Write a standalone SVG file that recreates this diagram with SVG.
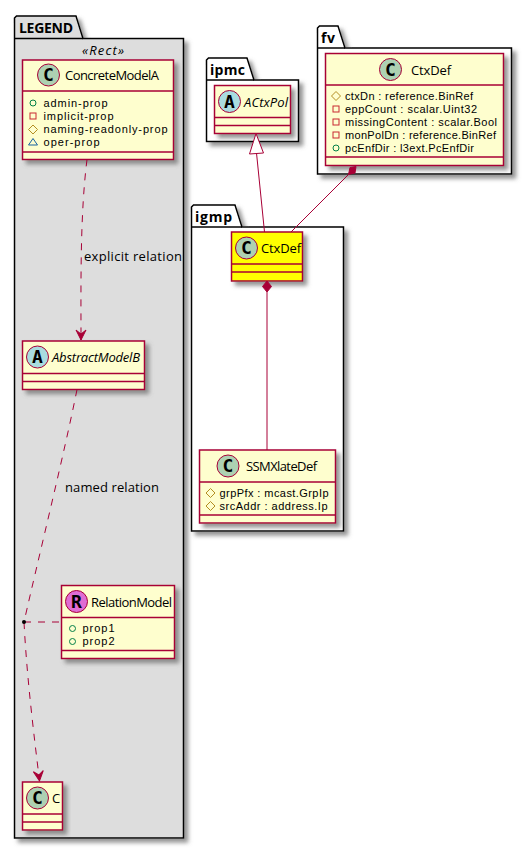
<svg xmlns="http://www.w3.org/2000/svg" width="532" height="849" viewBox="0 0 532 849">
<defs>
<filter id="sh" x="-20%" y="-20%" width="140%" height="140%"><feGaussianBlur in="SourceAlpha" stdDeviation="2"/><feOffset dx="4" dy="4"/><feColorMatrix type="matrix" values="0 0 0 0 0.15 0 0 0 0 0.15 0 0 0 0 0.15 0 0 0 0.72 0"/><feMerge><feMergeNode/><feMergeNode in="SourceGraphic"/></feMerge></filter>
<marker id="open" markerUnits="userSpaceOnUse" markerWidth="14" markerHeight="14" refX="11" refY="6" orient="auto"><path d="M1 1 L11 6 L1 11 L5 6 Z" fill="#A80036" stroke="#A80036" stroke-width="1"/></marker>
</defs>
<style>
text{font-family:"Open Sans","Noto Sans","Liberation Sans",sans-serif;fill:#000}
.pk{fill:#fff;stroke:#000;stroke-width:1.5}
.cl{fill:#FEFECE;stroke:#A80036;stroke-width:1.5}
.sep{stroke:#A80036;stroke-width:1.5;fill:none}
.t{font-size:13px}
.m{font-size:11px;font-family:"Liberation Sans",sans-serif}
.b{font-size:14px;font-weight:bold}
.c{stroke:#A80036;fill:none;stroke-width:1}
.d{stroke-dasharray:7,7}
.g{font-weight:bold;font-size:18px;font-family:"DejaVu Sans Mono","Liberation Mono",monospace;text-anchor:middle}
.cC{fill:#ADD1B2;stroke:#A80036;stroke-width:1}
.cA{fill:#A9DCDF;stroke:#A80036;stroke-width:1}
.cR{fill:#DF6CD3;stroke:#A80036;stroke-width:1}
.vg{fill:none;stroke:#038048}.vr{fill:none;stroke:#C82930}.vy{fill:none;stroke:#B38D22}.vb{fill:none;stroke:#1963A0}
</style>
<g id="pkg-legend" filter="url(#sh)"><path class="pk" style="fill:#DDDDDD" d="M14.500 38.500 V18 L16.500 16 H76 L83 38.500 H183.500 V838 H14.500 Z"/><path class="sep" style="stroke:#000" d="M14.500 38.500 H83"/></g>
<text class="b" x="19" y="33" textLength="54">LEGEND</text>
<text x="103" y="55" font-size="13" font-style="italic" text-anchor="middle" textLength="42">«Rect»</text>
<g id="pkg-ipmc" filter="url(#sh)"><path class="pk" d="M206.500 80 V60 L208.500 58 H247 L254 80 H298.500 V141.500 H206.500 Z"/><path class="sep" style="stroke:#000" d="M206.500 80 H254"/></g>
<text class="b" x="210" y="75" textLength="35">ipmc</text>
<g id="pkg-fv" filter="url(#sh)"><path class="pk" d="M317.500 48 V28 L319.500 26 H338 L345 48 H511.500 V174 H317.500 Z"/><path class="sep" style="stroke:#000" d="M317.500 48 H345"/></g>
<text class="b" x="321" y="43" textLength="14">fv</text>
<g id="pkg-igmp" filter="url(#sh)"><path class="pk" d="M191.500 227 V207 L193.500 205 H235 L242 227 H343.500 V531 H191.500 Z"/><path class="sep" style="stroke:#000" d="M191.500 227 H242"/></g>
<text class="b" x="195" y="222" textLength="37">igmp</text>
<g id="ConcreteModelA"><rect class="cl" filter="url(#sh)" x="22.500" y="60" width="151" height="99.500"/><path class="sep" d="M22.500 91 H173.500 M22.500 152 H173.500"/><circle class="cC" cx="48.500" cy="75" r="11"/><text class="g" x="48.500" y="81">C</text><text class="t" x="65" y="80" textLength="94">ConcreteModelA</text>
<circle class="vg" cx="33" cy="103" r="3"/><text class="m" x="43.500" y="106.500" textLength="64">admin-prop</text>
<rect class="vr" x="30" y="113" width="6" height="6"/><text class="m" x="43.500" y="119.500" textLength="70">implicit-prop</text>
<path class="vy" d="M33 125 L37.500 129.500 L33 134 L28.500 129.500 Z"/><text class="m" x="43.500" y="132.500" textLength="124">naming-readonly-prop</text>
<path class="vb" d="M33 138.500 L37.500 145 H28.500 Z"/><text class="m" x="43.500" y="145.500" textLength="56">oper-prop</text></g>
<g id="AbstractModelB"><rect class="cl" filter="url(#sh)" x="22.500" y="341" width="122" height="48.500"/><path class="sep" d="M22.500 373.500 H144.500 M22.500 381.500 H144.500"/><circle class="cA" cx="37.500" cy="357" r="11"/><text class="g" x="37.500" y="363">A</text><text class="t" x="52" y="362" font-style="italic" textLength="88">AbstractModelB</text></g>
<g id="RelationModel"><rect class="cl" filter="url(#sh)" x="61.500" y="585.500" width="113" height="73"/><path class="sep" d="M61.500 617.500 H174.500 M61.500 650.500 H174.500"/><circle class="cR" cx="76.500" cy="601.500" r="11"/><text class="g" x="76.500" y="607.500">R</text><text class="t" x="91" y="606.500" textLength="81">RelationModel</text>
<circle class="vg" cx="72.500" cy="628.500" r="3"/><text class="m" x="82.500" y="632" textLength="32">prop1</text>
<circle class="vg" cx="72.500" cy="641.500" r="3"/><text class="m" x="82.500" y="645" textLength="32">prop2</text></g>
<g id="C"><rect class="cl" filter="url(#sh)" x="22.500" y="782" width="40" height="48"/><path class="sep" d="M22.500 814 H62.500 M22.500 822 H62.500"/><circle class="cC" cx="37.500" cy="798" r="11"/><text class="g" x="37.500" y="804">C</text><text class="t" x="52" y="803" textLength="8">C</text></g>
<g id="ipmc-ACtxPol"><rect class="cl" filter="url(#sh)" x="214.500" y="85.500" width="76" height="48"/><path class="sep" d="M214.500 117.500 H290.500 M214.500 125.500 H290.500"/><circle class="cA" cx="229.500" cy="101.500" r="11"/><text class="g" x="229.500" y="107.500">A</text><text class="t" x="244" y="106.500" font-style="italic" textLength="44">ACtxPol</text></g>
<g id="fv-CtxDef"><rect class="cl" filter="url(#sh)" x="325.500" y="53.500" width="178" height="112"/><path class="sep" d="M325.500 85 H503.500 M325.500 157 H503.500"/><circle class="cC" cx="390.500" cy="69.500" r="11"/><text class="g" x="390.500" y="75.500">C</text><text class="t" x="411" y="74.500" textLength="40">CtxDef</text>
<path class="vy" d="M336 91.500 L340.500 96 L336 100.500 L331.500 96 Z"/><text class="m" x="345" y="99.500" textLength="128">ctxDn : reference.BinRef</text>
<rect class="vr" x="333" y="106" width="6" height="6"/><text class="m" x="345" y="112.500" textLength="132">eppCount : scalar.Uint32</text>
<rect class="vr" x="333" y="119" width="6" height="6"/><text class="m" x="345" y="125.500" textLength="152">missingContent : scalar.Bool</text>
<rect class="vr" x="333" y="132" width="6" height="6"/><text class="m" x="345" y="138.500" textLength="151">monPolDn : reference.BinRef</text>
<circle class="vg" cx="336" cy="148" r="3"/><text class="m" x="345" y="151.500" textLength="129">pcEnfDir : l3ext.PcEnfDir</text></g>
<g id="igmp-CtxDef"><rect class="cl" style="fill:#FFFF00" filter="url(#sh)" x="231.500" y="232" width="71" height="49"/><path class="sep" d="M231.500 264 H302.500 M231.500 272 H302.500"/><circle class="cC" cx="246.500" cy="248" r="11"/><text class="g" x="246.500" y="254">C</text><text class="t" x="261" y="253" textLength="40">CtxDef</text></g>
<g id="igmp-SSMXlateDef"><rect class="cl" filter="url(#sh)" x="199.500" y="450" width="136" height="73"/><path class="sep" d="M199.500 482 H335.500 M199.500 515 H335.500"/><circle class="cC" cx="228" cy="466" r="11"/><text class="g" x="228" y="472">C</text><text class="t" x="246" y="471" textLength="71">SSMXlateDef</text>
<path class="vy" d="M210.500 488.500 L215 493 L210.500 497.500 L206 493 Z"/><text class="m" x="219.500" y="496.500" textLength="109">grpPfx : mcast.GrpIp</text>
<path class="vy" d="M210.500 501.500 L215 506 L210.500 510.500 L206 506 Z"/><text class="m" x="219.500" y="509.500" textLength="108">srcAddr : address.Ip</text></g>
<g id="connectors">
<path class="c d" d="M87 159.500 C80 215 81 285 81 340"/>
<path class="c" d="M81 334 V340" marker-end="url(#open)"/>
<path class="c d" d="M77 389.500 C65 450 38 560 24 622"/>
<path class="c d" d="M24 622 C27 680 34 735 39.500 781" marker-end="url(#open)"/>
<path class="c d" d="M24 622 H61"/>
<circle cx="24" cy="622" r="2" fill="#000"/>
<path class="c" d="M256.500 153 L264.500 232"/>
<path d="M256 133.500 L249.500 154 L263.500 153 Z" fill="#fff" stroke="#A80036"/>
<path class="c" d="M349 174 L291 232"/>
<path d="M356 166.500 L350 167.500 L348.500 174.500 L355 173 Z" fill="#A80036" stroke="#A80036"/>
<path class="c" d="M267 292 V450"/>
<path d="M267 281 L262.500 286.500 L267 292 L271.500 286.500 Z" fill="#A80036" stroke="#A80036"/>
</g>
<text x="84" y="261" font-size="13" textLength="98">explicit relation</text>
<text x="65" y="492" font-size="13" textLength="94">named relation</text>
</svg>
